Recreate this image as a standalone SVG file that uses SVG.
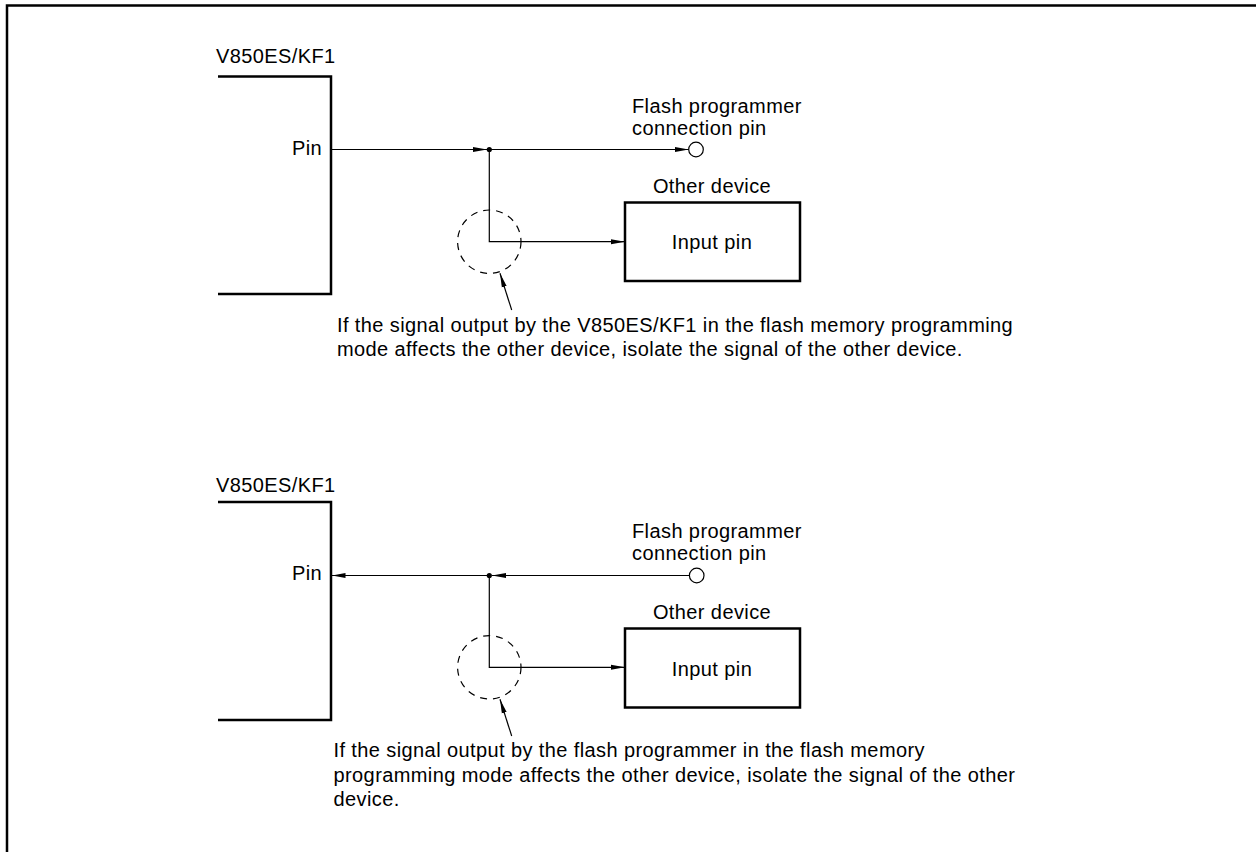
<svg xmlns="http://www.w3.org/2000/svg" width="1256" height="852" viewBox="0 0 1256 852">
<style>
text{font-family:"Liberation Sans",Arial,sans-serif;font-size:20px;fill:#000;letter-spacing:0.4px}
.thick{fill:none;stroke:#000;stroke-width:2.5}
.wire{fill:none;stroke:#000;stroke-width:1.2}
.dash{fill:none;stroke:#000;stroke-width:1.2;stroke-dasharray:7,6}
.term{fill:#fff;stroke:#000;stroke-width:1.2}
</style>
<defs>
<marker id="ah" markerWidth="14" markerHeight="6" refX="14" refY="3" orient="auto" markerUnits="userSpaceOnUse">
<path d="M0,0.5 L14,3 L0,5.5 Z" fill="#000"/>
</marker>
</defs>
<rect width="1256" height="852" fill="#fff"/>
<g id="frame"><path class="thick" d="M7,852 V5.5 H1256"/></g>

<!-- Top diagram -->
<g id="chip1">
<path class="thick" d="M218,76.5 H331 V294 H218"/>
<text x="216" y="63">V850ES/KF1</text>
<text x="322" y="155" text-anchor="end">Pin</text>
</g>
<g id="fpin1">
<circle class="term" cx="696" cy="149.5" r="7.3"/>
<text x="632" y="113">Flash programmer</text>
<text x="632" y="135">connection pin</text>
</g>
<g id="dev1">
<rect class="thick" x="625" y="202.5" width="175" height="78.5"/>
<text x="712" y="193" text-anchor="middle">Other device</text>
<text x="712" y="249" text-anchor="middle">Input pin</text>
</g>
<g id="note1">
<circle class="dash" cx="489.3" cy="241.7" r="31.7"/>
<text x="337" y="331.5">If the signal output by the V850ES/KF1 in the flash memory programming</text>
<text x="337" y="356">mode affects the other device, isolate the signal of the other device.</text>
</g>
<g id="connectors1">
<line class="wire" x1="331" y1="149.5" x2="487" y2="149.5" marker-end="url(#ah)"/>
<line class="wire" x1="489.3" y1="149.5" x2="688.7" y2="149.5" marker-end="url(#ah)"/>
<path class="wire" d="M489.3,149.5 V241.7 H625" marker-end="url(#ah)"/>
<circle cx="489.3" cy="149.5" r="2.6" fill="#000"/>
<line class="wire" x1="511.7" y1="310" x2="500" y2="273.3" marker-end="url(#ah)"/>
</g>

<!-- Bottom diagram -->
<g id="chip2">
<path class="thick" d="M218,502 H331 V720 H218"/>
<text x="216" y="492">V850ES/KF1</text>
<text x="322" y="580" text-anchor="end">Pin</text>
</g>
<g id="fpin2">
<circle class="term" cx="696.7" cy="575.5" r="7.3"/>
<text x="632" y="538">Flash programmer</text>
<text x="632" y="560">connection pin</text>
</g>
<g id="dev2">
<rect class="thick" x="625" y="628.5" width="175" height="79"/>
<text x="712" y="619" text-anchor="middle">Other device</text>
<text x="712" y="676" text-anchor="middle">Input pin</text>
</g>
<g id="note2">
<circle class="dash" cx="489.3" cy="667.3" r="31.7"/>
<text x="333.5" y="756.5">If the signal output by the flash programmer in the flash memory</text>
<text x="333.5" y="781.5">programming mode affects the other device, isolate the signal of the other</text>
<text x="333.5" y="806">device.</text>
</g>
<g id="connectors2">
<line class="wire" x1="689.4" y1="575.5" x2="492" y2="575.5" marker-end="url(#ah)"/>
<line class="wire" x1="489.3" y1="575.5" x2="331.5" y2="575.5" marker-end="url(#ah)"/>
<path class="wire" d="M489.3,575.5 V667.3 H625" marker-end="url(#ah)"/>
<circle cx="489.3" cy="575.5" r="2.6" fill="#000"/>
<line class="wire" x1="511.7" y1="736" x2="500" y2="699.3" marker-end="url(#ah)"/>
</g>
</svg>
